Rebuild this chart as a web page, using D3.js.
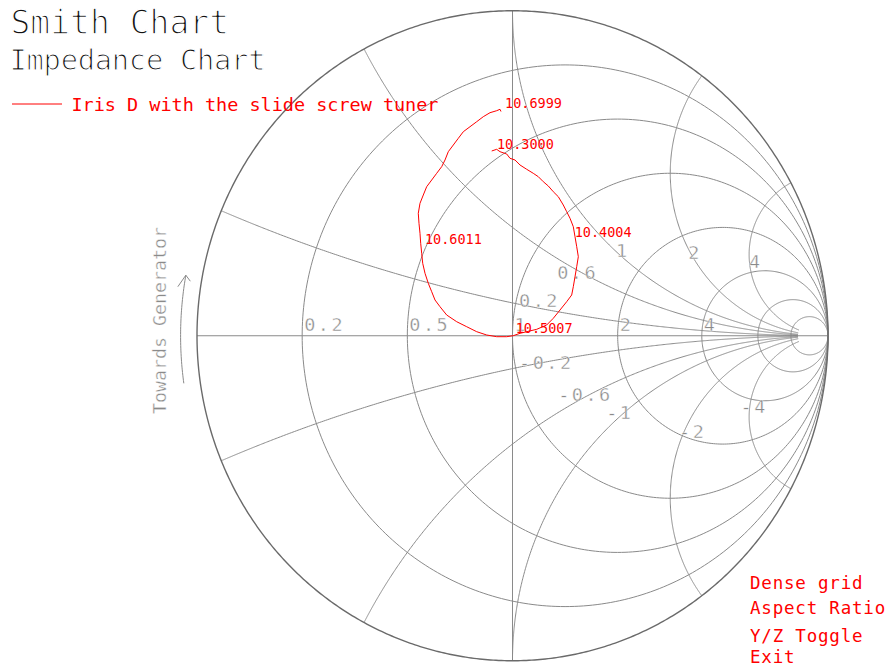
<!DOCTYPE html>
<html><head><meta charset="utf-8">
<script src="https://cdn.jsdelivr.net/npm/d3@7"></script>
<style>body{margin:0;background:#fff} svg{display:block}</style>
</head><body>
<svg id="c" width="887" height="666"></svg>
<script>
// ---------------- data ----------------
const titleText = "Smith Chart";
const subtitleText = "Impedance Chart";
const seriesName = "Iris D with the slide screw tuner";
const menuItems = ["Dense grid", "Aspect Ratio", "Y/Z Toggle", "Exit"];
const directionText = "Towards Generator";

// constant-resistance circles (normalised r)
const rValues = [0.2, 0.5, 1, 2, 4, 8, 16];
const rLabelValues = [0.2, 0.5, 1, 2, 4];
const rLabelText = ["0.2", "0.5", "1", "2", "4"];
// constant-reactance arcs (normalised x, both signs drawn)
const xValues = [0.2, 0.6, 1, 2, 4];
const xArcMaxR = 20;
// reactance labels and their reflection-coefficient positions
const xLabelText = ["0.2", "0.6", "1", "2", "4", "-0.2", "-0.6", "-1", "-2", "-4"];
const xLabelRe = [0.024, 0.145, 0.331, 0.560, 0.753, 0.024, 0.148, 0.300, 0.531, 0.726];
const xLabelIm = [0.088, 0.175, 0.243, 0.235, 0.208, -0.103, -0.200, -0.257, -0.316, -0.239];

// measured reflection coefficient, 10.3 GHz -> 10.7 GHz
const gammaRe = [-0.0659,-0.0501,-0.0396,-0.0184,-0.0079,0.0079,0.0238,0.0450,0.0659,0.0818,
  0.0976,0.1135,0.1293,0.1452,0.1610,0.1718,0.1823,0.1927,0.1981,0.2035,
  0.2086,0.2035,0.1981,0.1927,0.1876,0.1718,0.1506,0.1293,0.1084,0.0767,
  0.0450,0.0238,0.0025,-0.0184,-0.0501,-0.0818,-0.1135,-0.1452,-0.1769,-0.2086,
  -0.2298,-0.2456,-0.2561,-0.2669,-0.2773,-0.2846,-0.2878,-0.2910,-0.2932,-0.2964,
  -0.2986,-0.2932,-0.2827,-0.2720,-0.2561,-0.2403,-0.2244,-0.2139,-0.2035,-0.1876,
  -0.1718,-0.1559,-0.1347,-0.1135,-0.0926,-0.0713,-0.0501,-0.0396,-0.0365];
const gammaIm = [0.5685,0.5737,0.5663,0.5592,0.5460,0.5408,0.5254,0.5122,0.4998,0.4894,
  0.4740,0.4608,0.4432,0.4278,0.4023,0.3817,0.3614,0.3355,0.3048,0.2740,
  0.2432,0.2125,0.1817,0.1509,0.1254,0.1048,0.0792,0.0537,0.0331,0.0198,
  0.0125,0.0075,0.0002,-0.0029,-0.0029,0.0023,0.0125,0.0278,0.0432,0.0638,
  0.0894,0.1100,0.1355,0.1614,0.1922,0.2229,0.2537,0.2845,0.3152,0.3460,
  0.3768,0.4075,0.4331,0.4586,0.4792,0.4998,0.5202,0.5408,0.5663,0.5869,
  0.6075,0.6278,0.6432,0.6586,0.6740,0.6863,0.6925,0.6968,0.6900];
// frequency markers (GHz) and where their labels sit
const freqText = ["10.3000", "10.4004", "10.5007", "10.6011", "10.6999"];
const freqRe = [-0.046, 0.2003, 0.0133, -0.2742, -0.0206];
const freqIm = [0.576, 0.3048, 0.0094, 0.2814, 0.7017];

// ---------------- drawing ----------------
const svg = d3.select("#c");
const xs = d3.scaleLinear().domain([-1, 1]).range([197, 828]);
const ys = d3.scaleLinear().domain([-1, 1]).range([660.75, 10.75]);
const line = d3.line().x(d => xs(d[0])).y(d => ys(d[1]));
const GRID = "#8a8a8a";
const MONO = "'DejaVu Sans Mono', 'Liberation Mono', monospace";

function circlePts(cx, cy, rad, n) {
  return d3.range(n + 1).map(i => {
    const t = 2 * Math.PI * i / n;
    return [cx + rad * Math.cos(t), cy + rad * Math.sin(t)];
  });
}
function z2g(r, x) { // (z-1)/(z+1)
  const a = r - 1, b = x, c = r + 1, d = x;
  const den = c * c + d * d;
  return [(a * c + b * d) / den, (b * c - a * d) / den];
}
// thin the glyph strokes with a white outline painted over the fill
function thin(sel, w) {
  return sel.attr("stroke", "#fff").attr("stroke-width", w).attr("paint-order", "fill")
    .attr("stroke-linejoin", "round");
}

const grid = svg.append("g").attr("fill", "none").attr("stroke", GRID).attr("stroke-width", 1);
grid.append("path").attr("d", line([[-1, 0], [1, 0]]));
grid.append("path").attr("d", line([[0, -1], [0, 1]]));
rValues.forEach(r => {
  grid.append("path").attr("d", line(circlePts(r / (1 + r), 0, 1 / (1 + r), 360)));
});
xValues.forEach(x => {
  [x, -x].forEach(xx => {
    const pts = d3.range(601).map(i => z2g(xArcMaxR * Math.pow(i / 600, 3), xx));
    grid.append("path").attr("d", line(pts));
  });
});
svg.append("path").attr("d", line(circlePts(0, 0, 1, 720)))
  .attr("fill", "none").attr("stroke", "#6a6a6a").attr("stroke-width", 1.4);

// grid labels
const glab = svg.append("g").attr("fill", "#8a8a8a").attr("font-family", MONO)
  .attr("font-size", 18.5).attr("letter-spacing", 2.5);
rLabelValues.forEach((r, i) => {
  thin(glab.append("text").attr("x", xs((r - 1) / (r + 1)) + 2).attr("y", ys(0) - 4.5).text(rLabelText[i]), 0.4);
});
xLabelText.forEach((t, i) => {
  thin(glab.append("text").attr("x", xs(xLabelRe[i]) - 1).attr("y", ys(xLabelIm[i])).text(t), 0.4);
});

// towards generator
const tg = svg.append("g").attr("fill", "none").attr("stroke", "#8a8a8a").attr("stroke-width", 1);
const arcR = 1.052;
const arcPts = d3.range(0, 41).map(i => {
  const a = (188 - 18.2 * i / 40) * Math.PI / 180;
  return [arcR * Math.cos(a), arcR * Math.sin(a)];
});
tg.append("path").attr("d", line(arcPts));
const tip = arcPts[arcPts.length - 1];
const tx = xs(tip[0]), ty = ys(tip[1]);
tg.append("path").attr("d", `M${tx - 8},${ty + 11.5}L${tx},${ty}L${tx + 4.5},${ty + 6}`);
thin(svg.append("text").attr("transform", `translate(${165.5},${414}) rotate(-90)`)
  .attr("fill", "#8a8a8a").attr("font-family", MONO).attr("font-size", 18.3)
  .text(directionText), 0.4);

// data curve
svg.append("path").attr("d", line(gammaRe.map((u, i) => [u, gammaIm[i]])))
  .attr("fill", "none").attr("stroke", "#ff0000").attr("stroke-width", 1);
const fl = svg.append("g").attr("fill", "#ff0000").attr("font-family", MONO).attr("font-size", 13.5);
freqText.forEach((t, i) => {
  fl.append("text").attr("x", xs(freqRe[i]) - 1).attr("y", ys(freqIm[i])).text(t);
});

// titles
thin(svg.append("text").attr("x", 10.5).attr("y", 34.3).attr("fill", "#111").attr("font-family", MONO)
  .attr("font-size", 33).text(titleText), 1.4);
thin(svg.append("text").attr("x", 9.5).attr("y", 70).attr("fill", "#111").attr("font-family", MONO)
  .attr("font-size", 28.8).attr("textLength", 256).attr("lengthAdjust", "spacing").text(subtitleText), 1.2);
// legend
svg.append("path").attr("d", "M12,104H62").attr("stroke", "#ff0000").attr("stroke-width", 1);
svg.append("text").attr("x", 71.5).attr("y", 111).attr("fill", "#ff0000").attr("font-family", MONO)
  .attr("font-size", 18.5).attr("textLength", 367).attr("lengthAdjust", "spacing").text(seriesName);
// menu
const menuY = [589.3, 614.3, 641.5, 662.5];
menuItems.forEach((t, i) => {
  svg.append("text").attr("x", 750).attr("y", menuY[i]).attr("fill", "#ff0000")
    .attr("font-family", MONO).attr("font-size", 17.5).attr("letter-spacing", 0.8).text(t);
});
</script>
</body></html>
